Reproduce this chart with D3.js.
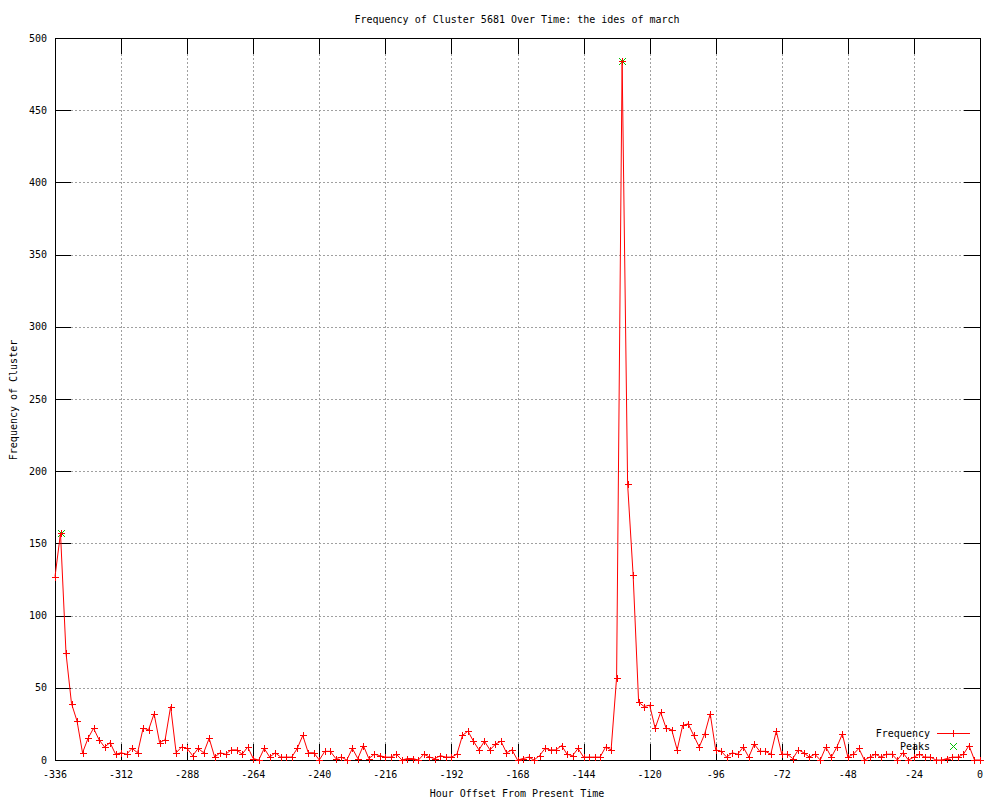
<!DOCTYPE html>
<html>
<head>
<meta charset="utf-8">
<script src="https://cdn.jsdelivr.net/npm/d3@7"></script>
<style>
  body { margin: 0; background: #fff; }
  text { font-family: "DejaVu Sans Mono", monospace; font-size: 10px; fill: #000; }
</style>
</head>
<body>
<div id="chart"></div>
<script>
// Data: one reading every 2 hours, from -336 to 0
const hourStart = -336
const hourStep = 2

const frequency = [
  127, 157, 74, 39, 27, 5, 15, 22, 14, 9, 12, 4, 5, 4, 8, 5, 22, 21, 32, 12,
  14, 37, 5, 9, 8, 3, 8, 5, 15, 2, 5, 4, 7, 7, 4, 9, 1, 0, 8, 2,
  5, 2, 2, 2, 8, 17, 5, 5, 0, 6, 6, 1, 2, 0, 8, 1, 10, 1, 4, 3,
  2, 2, 4, 0, 1, 1, 0, 4, 2, 1, 3, 2, 2, 4, 17, 20, 13, 7, 13, 7,
  11, 13, 5, 7, 0, 1, 2, 0, 3, 8, 7, 7, 10, 4, 3, 8, 2, 2, 2, 2,
  9, 7, 57, 484, 191, 128, 40, 37, 38, 22, 33, 22, 21, 7, 24, 25, 17, 9, 18, 32,
  7, 6, 2, 5, 4, 9, 2, 11, 6, 6, 4, 20, 4, 4, 1, 7, 5, 2, 4, 0,
  9, 2, 9, 18, 2, 4, 8, 0, 2, 4, 2, 4, 4, 0, 5, 0, 2, 4, 2, 2,
  0, 0, 1, 2, 2, 4, 10, 0, 0
]

const peakHours = [-334, -130]
const peakValues = [157, 484]

const xTicks = [-336, -312, -288, -264, -240, -216, -192, -168, -144, -120, -96, -72, -48, -24, 0]
const yTicks = [0, 50, 100, 150, 200, 250, 300, 350, 400, 450, 500]

const titleText = "Frequency of Cluster 5681 Over Time: the ides of march"
const xLabel = "Hour Offset From Present Time"
const yLabel = "Frequency of Cluster"

const points = frequency.map(function (v, i) {
    return { hour: hourStart + i * hourStep, value: v }
})
const peaks = peakHours.map(function (h, i) {
    return { hour: h, value: peakValues[i] }
})

// set the dimensions of the graph
const width = 1000
const height = 800
const plotLeft = 55, plotRight = 980, plotTop = 38, plotBottom = 760
const tickLen = 16

var x = d3.scaleLinear().domain([-336, 0]).range([plotLeft, plotRight])
var y = d3.scaleLinear().domain([0, 500]).range([plotBottom, plotTop])

var svg = d3.select("#chart")
    .append("svg")
    .attr("width", width)
    .attr("height", height)

// grid lines (dotted gray)
var grid = svg.append("g")
    .style("stroke", "#a0a0a0")
    .style("stroke-dasharray", "2,2")
    .attr("shape-rendering", "crispEdges")

grid.selectAll("line.gx")
    .data(xTicks.slice(1, -1))
    .enter()
    .append("line")
    .attr("x1", function (d) { return Math.round(x(d)) + 0.5 })
    .attr("x2", function (d) { return Math.round(x(d)) + 0.5 })
    .attr("y1", plotBottom)
    .attr("y2", plotTop)

grid.selectAll("line.gy")
    .data(yTicks.slice(1, -1))
    .enter()
    .append("line")
    .attr("y1", function (d) { return Math.round(y(d)) + 0.5 })
    .attr("y2", function (d) { return Math.round(y(d)) + 0.5 })
    .attr("x1", plotLeft)
    .attr("x2", plotRight)

// ticks on all four sides, pointing inward
var ticks = svg.append("g")
    .style("stroke", "#000")
    .attr("shape-rendering", "crispEdges")

xTicks.forEach(function (t) {
    var px = Math.round(x(t)) + 0.5
    ticks.append("line").attr("x1", px).attr("x2", px).attr("y1", plotBottom).attr("y2", plotBottom - tickLen)
    ticks.append("line").attr("x1", px).attr("x2", px).attr("y1", plotTop).attr("y2", plotTop + tickLen)
})
yTicks.forEach(function (t) {
    var py = Math.round(y(t)) + 0.5
    ticks.append("line").attr("y1", py).attr("y2", py).attr("x1", plotLeft).attr("x2", plotLeft + tickLen)
    ticks.append("line").attr("y1", py).attr("y2", py).attr("x1", plotRight).attr("x2", plotRight - tickLen)
})

// border
svg.append("rect")
    .attr("x", plotLeft + 0.5)
    .attr("y", plotTop + 0.5)
    .attr("width", plotRight - plotLeft)
    .attr("height", plotBottom - plotTop)
    .style("fill", "none")
    .style("stroke", "#000")
    .attr("shape-rendering", "crispEdges")

// tick labels
svg.selectAll("text.xt")
    .data(xTicks)
    .enter()
    .append("text")
    .attr("x", function (d) { return x(d) })
    .attr("y", 774)
    .attr("dy", "0.35em")
    .attr("text-anchor", "middle")
    .text(function (d) { return d })

svg.selectAll("text.yt")
    .data(yTicks)
    .enter()
    .append("text")
    .attr("x", 47)
    .attr("y", function (d) { return y(d) })
    .attr("dy", "0.35em")
    .attr("text-anchor", "end")
    .text(function (d) { return d })

// titles
svg.append("text")
    .attr("x", 517).attr("y", 19).attr("dy", "0.35em")
    .attr("text-anchor", "middle")
    .text(titleText)

svg.append("text")
    .attr("x", 517).attr("y", 793).attr("dy", "0.35em")
    .attr("text-anchor", "middle")
    .text(xLabel)

svg.append("text")
    .attr("transform", "translate(13,400) rotate(-90)")
    .attr("dy", "0.35em")
    .attr("text-anchor", "middle")
    .text(yLabel)

var plot = svg.append("g")

var plus = "M-3.5,0H3.5M0,-3.5V3.5"
var cross = "M-3.5,-3.5L3.5,3.5M-3.5,3.5L3.5,-3.5"

// peaks (green x)
plot.selectAll("path.peak")
    .data(peaks)
    .enter()
    .append("path")
    .attr("d", cross)
    .attr("transform", function (d) {
        return "translate(" + (Math.round(x(d.hour)) + 0.5) + "," + (Math.round(y(d.value)) + 0.5) + ")"
    })
    .style("stroke", "#00c000")
    .style("fill", "none")

// frequency line
var line = d3.line()
    .x(function (d) { return x(d.hour) })
    .y(function (d) { return y(d.value) })

plot.append("path")
    .datum(points)
    .attr("d", line)
    .style("fill", "none")
    .style("stroke", "#ff0000")
    .style("stroke-width", 1)

plot.selectAll("path.pt")
    .data(points)
    .enter()
    .append("path")
    .attr("d", plus)
    .attr("transform", function (d) {
        return "translate(" + (Math.round(x(d.hour)) + 0.5) + "," + (Math.round(y(d.value)) + 0.5) + ")"
    })
    .style("stroke", "#ff0000")
    .style("fill", "none")
    .attr("shape-rendering", "crispEdges")

// legend
var legend = svg.append("g")

legend.append("text").attr("x", 930).attr("y", 733).attr("dy", "0.35em")
    .attr("text-anchor", "end").text("Frequency")
legend.append("text").attr("x", 930).attr("y", 746).attr("dy", "0.35em")
    .attr("text-anchor", "end").text("Peaks")

legend.append("path")
    .attr("d", "M937,733.5H970")
    .style("stroke", "#ff0000")
    .style("fill", "none")
    .attr("shape-rendering", "crispEdges")
legend.append("path").attr("d", plus)
    .attr("transform", "translate(953.5,733.5)")
    .style("stroke", "#ff0000")
    .style("fill", "none")
    .attr("shape-rendering", "crispEdges")
legend.append("path").attr("d", cross)
    .attr("transform", "translate(953.5,746.5)")
    .style("stroke", "#00c000")
    .style("fill", "none")
</script>
</body>
</html>
